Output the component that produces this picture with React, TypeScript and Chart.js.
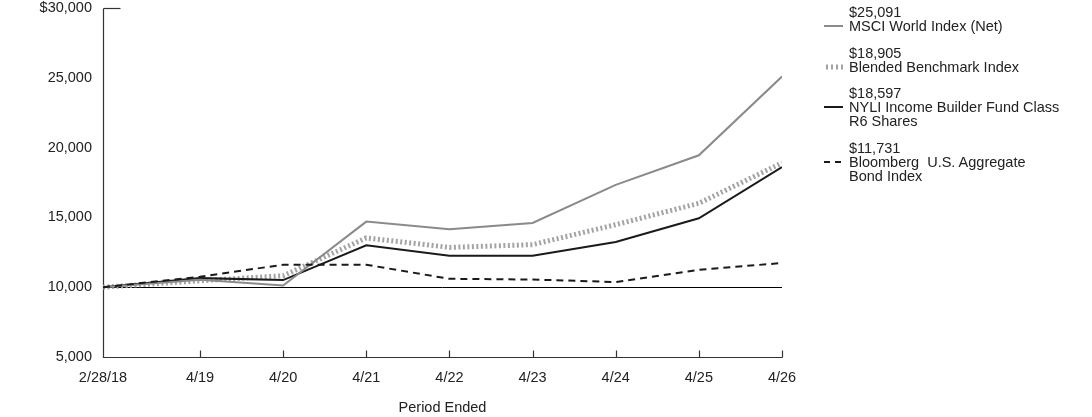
import React, { useEffect, useRef } from 'react';
import { Chart, registerables } from 'chart.js';

Chart.register(...registerables);

const periodLabels = ['2/28/18', '4/19', '4/20', '4/21', '4/22', '4/23', '4/24', '4/25', '4/26'];
const periodMonths = [0, 14, 26, 38, 50, 62, 74, 86, 98];
const msciWorld = [10000, 10530, 10120, 14700, 14150, 14600, 17330, 19450, 25091];
const blendedBenchmark = [10000, 10460, 10820, 13530, 12850, 13050, 14480, 16010, 18905];
const nyliFund = [10000, 10650, 10510, 13000, 12260, 12260, 13240, 14940, 18597];
const bloombergAgg = [10000, 10750, 11610, 11610, 10600, 10550, 10370, 11250, 11731];
const yTickValues = [5000, 10000, 15000, 20000, 25000, 30000];

const FONT = "'Liberation Sans', Arial, Helvetica, sans-serif";
const FONT_SIZE = 14.5;
const TEXT = '#222222';

type LegendItem = { value: string; lines: string[]; kind: 'solidGray' | 'dotted' | 'solidBlack' | 'dashed' };
const legendItems: LegendItem[] = [
  { value: '$25,091', lines: ['MSCI World Index (Net)'], kind: 'solidGray' },
  { value: '$18,905', lines: ['Blended Benchmark Index'], kind: 'dotted' },
  { value: '$18,597', lines: ['NYLI Income Builder Fund Class', 'R6 Shares'], kind: 'solidBlack' },
  { value: '$11,731', lines: ['Bloomberg  U.S. Aggregate', 'Bond Index'], kind: 'dashed' },
];

const toPoints = (vals: number[]) => vals.map((v, i) => ({ x: periodMonths[i], y: v }));

const decorPlugin = {
  id: 'decor',
  beforeDatasetsDraw(chart: any) {
    const { ctx, chartArea, scales } = chart;
    const { left, right, top, bottom } = chartArea;
    ctx.save();
    // baseline at 10,000
    const y0 = Math.round(scales.y.getPixelForValue(10000)) + 0.5;
    ctx.strokeStyle = '#000000';
    ctx.lineWidth = 1;
    ctx.beginPath();
    ctx.moveTo(left, y0);
    ctx.lineTo(right, y0);
    ctx.stroke();
    // axes
    ctx.strokeStyle = '#333333';
    ctx.lineWidth = 1.2;
    const xl = Math.round(left) + 0.5;
    const yb = Math.round(bottom) + 0.5;
    const yt = Math.round(top) + 0.5;
    ctx.beginPath();
    ctx.moveTo(xl, yt);
    ctx.lineTo(xl, yb);
    ctx.lineTo(Math.round(right) + 0.5, yb);
    ctx.stroke();
    // top tick
    ctx.beginPath();
    ctx.moveTo(xl, yt);
    ctx.lineTo(xl + 17, yt);
    ctx.stroke();
    // x ticks (inward)
    periodMonths.forEach((m, i) => {
      if (i === 0) return;
      const x = Math.round(scales.x.getPixelForValue(m)) + 0.5;
      ctx.beginPath();
      ctx.moveTo(x, yb);
      ctx.lineTo(x, yb - 7);
      ctx.stroke();
    });
    ctx.restore();
  },
};

function LegendSample({ kind }: { kind: LegendItem['kind'] }) {
  const svgStyle = { display: 'block' } as const;
  if (kind === 'solidGray')
    return (
      <svg width="20" height="8" style={svgStyle}><line x1="0" y1="4" x2="19" y2="4" stroke="#8a8a8a" strokeWidth="2" /></svg>
    );
  if (kind === 'solidBlack')
    return (
      <svg width="20" height="8" style={svgStyle}><line x1="0" y1="4" x2="19" y2="4" stroke="#1a1a1a" strokeWidth="2" /></svg>
    );
  if (kind === 'dashed')
    return (
      <svg width="20" height="8" style={svgStyle}><line x1="0" y1="4" x2="19" y2="4" stroke="#1a1a1a" strokeWidth="2" strokeDasharray="6,5" /></svg>
    );
  return (
    <svg width="20" height="8" style={svgStyle}><line x1="2" y1="4" x2="19" y2="4" stroke="#a3a3a3" strokeWidth="5" strokeDasharray="2,3" /></svg>
  );
}

export default function App() {
  const canvasRef = useRef<HTMLCanvasElement | null>(null);

  useEffect(() => {
    if (!canvasRef.current) return;
    const chart = new Chart(canvasRef.current, {
      type: 'line',
      data: {
        datasets: [
          {
            label: 'MSCI World Index (Net)',
            data: toPoints(msciWorld),
            borderColor: '#8a8a8a',
            borderWidth: 2,
            pointRadius: 0,
            tension: 0,
            order: 1,
          },
          {
            label: 'Blended Benchmark Index',
            data: toPoints(blendedBenchmark),
            borderColor: '#a3a3a3',
            borderWidth: 5,
            borderDash: [2, 2.5],
            pointRadius: 0,
            tension: 0,
            order: 3,
          },
          {
            label: 'NYLI Income Builder Fund Class R6 Shares',
            data: toPoints(nyliFund),
            borderColor: '#1a1a1a',
            borderWidth: 2,
            pointRadius: 0,
            tension: 0,
            order: 2,
          },
          {
            label: 'Bloomberg U.S. Aggregate Bond Index',
            data: toPoints(bloombergAgg),
            borderColor: '#1a1a1a',
            borderWidth: 2,
            borderDash: [7, 5],
            pointRadius: 0,
            tension: 0,
            order: 0,
          },
        ],
      },
      options: {
        animation: false,
        responsive: false,
        maintainAspectRatio: false,
        layout: { padding: { top: 8, right: 310, bottom: 0, left: 0 } },
        plugins: { legend: { display: false }, tooltip: { enabled: false } },
        scales: {
          x: {
            type: 'linear',
            min: periodMonths[0],
            max: periodMonths[periodMonths.length - 1],
            grid: { display: false, drawTicks: false },
            border: { display: false },
            afterBuildTicks: (s: any) => {
              s.ticks = periodMonths.map((v) => ({ value: v }));
            },
            afterFit: (s: any) => {
              s.height = 60;
            },
            ticks: {
              autoSkip: false,
              maxRotation: 0,
              padding: 12,
              color: TEXT,
              font: { family: FONT, size: FONT_SIZE },
              callback: (v: any) => {
                const i = periodMonths.indexOf(Number(v));
                return i >= 0 ? periodLabels[i] : '';
              },
            },
            title: {
              display: true,
              text: 'Period Ended',
              color: TEXT,
              font: { family: FONT, size: FONT_SIZE },
              padding: { top: 0, bottom: 0 },
            },
          },
          y: {
            min: 5000,
            max: 30000,
            grid: { display: false, drawTicks: false },
            border: { display: false },
            afterBuildTicks: (s: any) => {
              s.ticks = yTickValues.map((v) => ({ value: v }));
            },
            afterFit: (s: any) => {
              s.width = 103;
              s.paddingTop = 0;
              s.paddingBottom = 0;
            },
            ticks: {
              padding: 11,
              color: TEXT,
              font: { family: FONT, size: FONT_SIZE },
              callback: (v: any) => {
                const n = Number(v);
                const s = n.toLocaleString('en-US');
                return n === 30000 ? '$' + s : s;
              },
            },
          },
        },
      },
      plugins: [decorPlugin],
    } as any);
    return () => chart.destroy();
  }, []);

  return (
    <div style={{ position: 'absolute', left: 0, top: 0, width: 1092, height: 417, background: '#fff' }}>
      <canvas ref={canvasRef} width={1092} height={417} style={{ display: 'block', width: 1092, height: 417 }} />
      <div
        style={{
          position: 'absolute',
          left: 824,
          top: 5,
          fontFamily: FONT,
          fontSize: FONT_SIZE,
          lineHeight: '14px',
          color: TEXT,
        }}
      >
        {legendItems.map((it) => (
          <div key={it.value} style={{ position: 'relative', marginBottom: 12.5 }}>
            <div style={{ paddingLeft: 25, whiteSpace: 'pre' }}>{it.value}</div>
            {it.lines.map((ln) => (
              <div key={ln} style={{ paddingLeft: 25, whiteSpace: 'pre' }}>{ln}</div>
            ))}
            <div style={{ position: 'absolute', left: 0, top: 17 }}>
              <LegendSample kind={it.kind} />
            </div>
          </div>
        ))}
      </div>
    </div>
  );
}
